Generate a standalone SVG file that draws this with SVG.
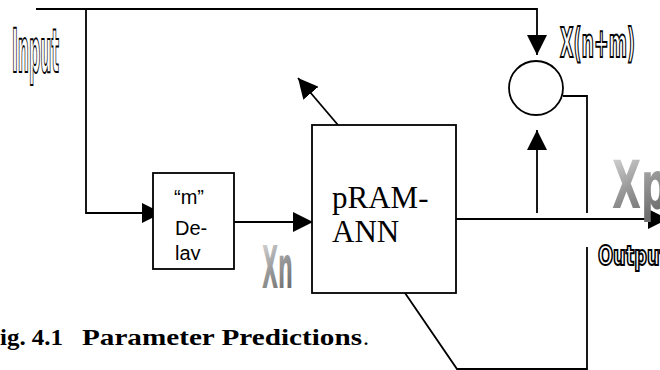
<svg xmlns="http://www.w3.org/2000/svg" width="660" height="370" viewBox="0 0 660 370">
  <style>
    .ln { fill: none; stroke: #000; stroke-width: 1.8; }
    .box { fill: #fff; stroke: #000; stroke-width: 1.8; }
    .word { font-family: "Liberation Sans Narrow", "DejaVu Sans Condensed", "Liberation Sans", sans-serif; font-weight: bold; }
    .outl { fill: #fff; stroke: #000; stroke-width: 2; }
    .serif { font-family: "Liberation Serif", "Times New Roman", serif; }
    .sans { font-family: "Liberation Sans", Arial, sans-serif; }
  </style>
  <defs>
    <marker id="arrow" markerUnits="userSpaceOnUse" markerWidth="20" markerHeight="20" refX="20" refY="10" orient="auto">
      <path d="M0,0 L20,10 L0,20 z" fill="#000"/>
    </marker>
    <linearGradient id="grey" x1="0" y1="0" x2="0.4" y2="1">
      <stop offset="0" stop-color="#e2e2e2"/>
      <stop offset="0.55" stop-color="#9a9a9a"/>
      <stop offset="1" stop-color="#6e6e6e"/>
    </linearGradient>
    <clipPath id="delayClip">
      <rect x="153" y="173" width="81" height="87"/>
    </clipPath>
  </defs>

  <rect width="660" height="370" fill="#fff"/>

  <!-- connectors -->
  <g id="connectors">
    <!-- input bus along the top, down into the comparator -->
    <polyline class="ln" points="36,9 537,9 537,55" marker-end="url(#arrow)"/>
    <!-- input branch into the delay block -->
    <polyline class="ln" points="86,9 86,213 162,213" marker-end="url(#arrow)"/>
    <!-- delayed sample Xn into the network -->
    <line class="ln" x1="234" y1="222" x2="313" y2="222" marker-end="url(#arrow)"/>
    <!-- network output Xp -->
    <line class="ln" x1="456" y1="219" x2="668" y2="219" marker-end="url(#arrow)"/>
    <!-- prediction up into the comparator -->
    <line class="ln" x1="537" y1="213" x2="537" y2="130" marker-end="url(#arrow)"/>
    <!-- error feedback from comparator -->
    <polyline class="ln" points="563,96 587,96 587,213"/>
    <polyline class="ln" points="587,247 587,369 457,369 405,293"/>
    <!-- learning arrow out of the network top -->
    <line class="ln" x1="338" y1="125" x2="298" y2="78" marker-end="url(#arrow)"/>
  </g>

  <!-- comparator -->
  <g id="comparator">
    <circle class="box" cx="536" cy="88" r="27"/>
  </g>

  <!-- delay block -->
  <g id="delay">
    <rect class="box" x="153" y="173" width="81" height="96"/>
    <g class="sans" font-size="20" fill="#000" clip-path="url(#delayClip)">
      <text x="174" y="204">“m”</text>
      <text x="175" y="235">De-</text>
      <text x="175" y="260">lay</text>
    </g>
  </g>

  <!-- network block -->
  <g id="pram">
    <rect class="box" x="312" y="125" width="144" height="168"/>
    <g class="serif" font-size="31" fill="#000">
      <text x="332" y="208">pRAM-</text>
      <text x="332" y="242">ANN</text>
    </g>
  </g>

  <!-- word-art labels -->
  <g id="label-input">
    <text class="word outl" x="12" y="72" font-size="60" textLength="47" lengthAdjust="spacingAndGlyphs">Input</text>
  </g>
  <g id="label-target">
    <text class="word outl" x="560" y="57" font-size="40" textLength="75" lengthAdjust="spacingAndGlyphs">X(n+m)</text>
  </g>
  <g id="label-output">
    <text class="word outl" x="598" y="265" font-size="27" textLength="70" lengthAdjust="spacingAndGlyphs">Output</text>
  </g>
  <g id="label-xn">
    <text class="word" x="262" y="288" font-size="58" textLength="31" lengthAdjust="spacingAndGlyphs" fill="url(#grey)">Xn</text>
  </g>
  <g id="label-xp">
    <text class="word" x="612" y="208" font-size="66" textLength="56" lengthAdjust="spacingAndGlyphs" fill="url(#grey)">Xp</text>
  </g>

  <!-- caption -->
  <g id="caption" class="serif" font-size="24" fill="#000">
    <text x="0" y="345" font-weight="bold" textLength="63" lengthAdjust="spacingAndGlyphs">ig. 4.1</text>
    <text x="82" y="345" font-weight="bold" textLength="280" lengthAdjust="spacingAndGlyphs">Parameter Predictions</text>
    <text x="363" y="345">.</text>
  </g>
</svg>
